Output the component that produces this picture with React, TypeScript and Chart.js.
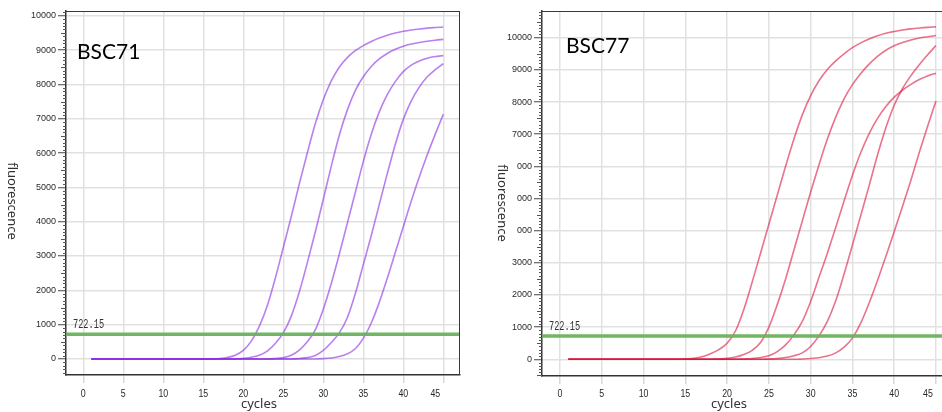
import React, { useEffect, useRef } from "react";
import { Chart, registerables } from "chart.js";

Chart.register(...registerables);

// ---------------- data ----------------
const cycles = [1, 2, 3, 4, 5, 6, 7, 8, 9, 10, 11, 12, 13, 14, 15, 16, 17, 18, 19, 20, 21, 22, 23, 24, 25, 26, 27, 28, 29, 30, 31, 32, 33, 34, 35, 36, 37, 38, 39, 40, 41, 42, 43, 44, 45];

const xTickValues = [0, 5, 10, 15, 20, 25, 30, 35, 40, 45];
const xTickLabels = ["0", "5", "10", "15", "20", "25", "30", "35", "40", "45"];
const yTickValues = [0, 1000, 2000, 3000, 4000, 5000, 6000, 7000, 8000, 9000, 10000];
const yTickLabels = ["0", "1000", "2000", "3000", "4000", "5000", "6000", "7000", "8000", "9000", "10000"];

const threshold = 722.15;
const thresholdLabel = "722.15";

// BSC71 (left panel, purple)
const bsc71A = [0, 0, 0, 0, 0, 0, 0, 0, 0, 0, 0, 0, 0, 0, 0, 0, 15, 45, 110, 250, 520, 950, 1550, 2350, 3250, 4150, 5100, 6000, 6850, 7550, 8100, 8500, 8780, 8980, 9130, 9250, 9350, 9430, 9495, 9545, 9585, 9615, 9638, 9655, 9670];
const bsc71B = [0, 0, 0, 0, 0, 0, 0, 0, 0, 0, 0, 0, 0, 0, 0, 0, 0, 0, 0, 20, 50, 110, 230, 450, 760, 1250, 1950, 2800, 3700, 4650, 5620, 6520, 7250, 7820, 8220, 8520, 8740, 8900, 9020, 9110, 9175, 9220, 9258, 9287, 9310];
const bsc71C = [0, 0, 0, 0, 0, 0, 0, 0, 0, 0, 0, 0, 0, 0, 0, 0, 0, 0, 0, 0, 0, 0, 0, 15, 40, 110, 260, 500, 850, 1450, 2200, 3050, 3950, 4850, 5750, 6550, 7200, 7700, 8080, 8370, 8560, 8680, 8760, 8810, 8840];
const bsc71D = [0, 0, 0, 0, 0, 0, 0, 0, 0, 0, 0, 0, 0, 0, 0, 0, 0, 0, 0, 0, 0, 0, 0, 0, 0, 0, 15, 40, 100, 250, 480, 760, 1200, 1900, 2750, 3600, 4500, 5400, 6250, 6980, 7520, 7920, 8220, 8430, 8600];
const bsc71E = [0, 0, 0, 0, 0, 0, 0, 0, 0, 0, 0, 0, 0, 0, 0, 0, 0, 0, 0, 0, 0, 0, 0, 0, 0, 0, 0, 0, 0, 10, 30, 70, 150, 300, 600, 1050, 1650, 2350, 3100, 3850, 4600, 5300, 5950, 6550, 7130];

// BSC77 (right panel, red)
const bsc77A = [0, 0, 0, 0, 0, 0, 0, 0, 0, 0, 0, 0, 0, 0, 15, 35, 80, 170, 300, 500, 880, 1550, 2400, 3300, 4200, 5100, 6000, 6850, 7600, 8200, 8660, 9010, 9280, 9500, 9690, 9840, 9960, 10060, 10140, 10195, 10240, 10275, 10300, 10320, 10336];
const bsc77B = [0, 0, 0, 0, 0, 0, 0, 0, 0, 0, 0, 0, 0, 0, 0, 0, 0, 0, 15, 30, 70, 150, 280, 520, 1000, 1700, 2500, 3400, 4300, 5200, 6050, 6850, 7530, 8100, 8540, 8890, 9180, 9420, 9610, 9750, 9850, 9930, 9990, 10030, 10066];
const bsc77C = [0, 0, 0, 0, 0, 0, 0, 0, 0, 0, 0, 0, 0, 0, 0, 0, 0, 0, 0, 0, 0, 10, 25, 55, 110, 240, 450, 760, 1180, 1800, 2550, 3300, 4100, 4920, 5720, 6430, 7020, 7490, 7860, 8150, 8370, 8550, 8700, 8810, 8896];
const bsc77D = [0, 0, 0, 0, 0, 0, 0, 0, 0, 0, 0, 0, 0, 0, 0, 0, 0, 0, 0, 0, 0, 0, 0, 0, 10, 25, 55, 110, 200, 400, 730, 1180, 1820, 2650, 3550, 4480, 5400, 6350, 7200, 7900, 8420, 8820, 9160, 9470, 9755];
const bsc77E = [0, 0, 0, 0, 0, 0, 0, 0, 0, 0, 0, 0, 0, 0, 0, 0, 0, 0, 0, 0, 0, 0, 0, 0, 0, 0, 0, 0, 10, 25, 50, 100, 200, 380, 660, 1130, 1750, 2450, 3200, 3970, 4760, 5570, 6430, 7250, 8034];

// ---------------- styling ----------------
const H = 412;
const GRID = "#e1e1e1";
const GREEN = "rgba(104,178,92,0.95)";

type Panel = {
  name: string;
  series: number[][];
  color: string;
  width: number;
  left: number;
  xMin: number;
  xMax: number;
  yMin: number;
  yMax: number;
  yWidth: number;
  xHeight: number;
  padRight: number;
  rightBorder: boolean;
  nameX: number;
  nameY: number;
  yTitleX: number;
  yTitleY: number;
  xTitleX: number;
  mask: null | { x: number; y: number; w: number; h: number };
};

const panels: Panel[] = [
  {
    name: "BSC71",
    series: [bsc71A, bsc71B, bsc71C, bsc71D, bsc71E],
    color: "rgba(138,43,226,0.6)",
    width: 470,
    left: 0,
    xMin: -2.16,
    xMax: 47.09,
    yMin: -466,
    yMax: 10137,
    yWidth: 66,
    xHeight: 37,
    padRight: 10,
    rightBorder: true,
    nameX: 77,
    nameY: 59,
    yTitleX: 12,
    yTitleY: 201,
    xTitleX: 259,
    mask: null,
  },
  {
    name: "BSC77",
    series: [bsc77A, bsc77B, bsc77C, bsc77D, bsc77E],
    color: "rgba(220,20,60,0.6)",
    width: 472,
    left: 470,
    xMin: -2.154,
    xMax: 45.72,
    yMin: -519,
    yMax: 10830,
    yWidth: 72,
    xHeight: 36,
    padRight: 0,
    rightBorder: false,
    nameX: 96,
    nameY: 53,
    yTitleX: 32,
    yTitleY: 203,
    xTitleX: 259,
    mask: { x: 20, y: 156, w: 27, h: 90 },
  },
];

function overlay(p: Panel) {
  return {
    id: "overlay-" + p.name,
    afterDraw(chart: any) {
      const ctx: CanvasRenderingContext2D = chart.ctx;
      const a = chart.chartArea;
      const xs = chart.scales.x;
      const ys = chart.scales.y;
      ctx.save();

      // top / right frame
      ctx.strokeStyle = "#3a3a3a";
      ctx.lineWidth = 1;
      ctx.beginPath();
      ctx.moveTo(a.left, a.top + 0.5);
      ctx.lineTo(a.right, a.top + 0.5);
      if (p.rightBorder) {
        ctx.moveTo(a.right - 0.5, a.top);
        ctx.lineTo(a.right - 0.5, a.bottom);
      }
      ctx.stroke();

      // minor ticks on y axis
      ctx.strokeStyle = "#555";
      ctx.lineWidth = 1;
      ctx.beginPath();
      for (let v = Math.ceil(ys.min / 100) * 100; v <= ys.max; v += 100) {
        if (v % 1000 === 0) continue;
        const y = Math.round(ys.getPixelForValue(v)) + 0.5;
        const len = v % 500 === 0 ? 5 : 3;
        ctx.moveTo(a.left - len, y);
        ctx.lineTo(a.left, y);
      }
      ctx.stroke();

      // x tick labels (condensed)
      ctx.fillStyle = "#2a2a2a";
      ctx.font = "11px 'Liberation Sans', Arial, sans-serif";
      ctx.textAlign = "center";
      ctx.textBaseline = "alphabetic";
      xTickValues.forEach((v, i) => {
        const off = i === xTickValues.length - 1 ? -8 : 0;
        const px = xs.getPixelForValue(v) + off;
        ctx.save();
        ctx.translate(px, 397);
        ctx.scale(0.8, 1);
        ctx.fillText(xTickLabels[i], 0, 0);
        ctx.restore();
      });

      // threshold label
      const ty = ys.getPixelForValue(threshold);
      ctx.save();
      ctx.fillStyle = "#333";
      ctx.font = "12px 'Liberation Mono', 'DejaVu Sans Mono', monospace";
      ctx.textAlign = "left";
      ctx.textBaseline = "middle";
      ctx.translate(a.left + 7, ty - 9.5);
      ctx.scale(0.72, 1);
      ctx.fillText(thresholdLabel, 0, 0);
      ctx.restore();

      // x title
      ctx.fillStyle = "#333";
      ctx.font = "13px 'Noto Sans', sans-serif";
      ctx.textAlign = "center";
      ctx.textBaseline = "alphabetic";
      ctx.fillText("cycles", p.xTitleX, 408);

      // y title (reads top to bottom) with white backing
      if (p.mask) {
        ctx.fillStyle = "#fff";
        ctx.fillRect(p.mask.x, p.mask.y, p.mask.w, p.mask.h);
      }
      ctx.save();
      ctx.translate(p.yTitleX, p.yTitleY);
      ctx.rotate(Math.PI / 2);
      ctx.fillStyle = "#333";
      ctx.font = "13px 'Noto Sans', sans-serif";
      ctx.textAlign = "center";
      ctx.textBaseline = "middle";
      ctx.fillText("fluorescence", 0, 0);
      ctx.restore();

      // panel name
      ctx.fillStyle = "#000";
      ctx.font = "21px Lato, 'Open Sans', sans-serif";
      ctx.textAlign = "left";
      ctx.textBaseline = "alphabetic";
      ctx.fillText(p.name, p.nameX, p.nameY);

      ctx.restore();
    },
  };
}

function buildConfig(p: Panel): any {
  const curves = p.series.map((s, i) => ({
    label: p.name + " " + (i + 1),
    data: cycles.map((c, k) => ({ x: c, y: s[k] })),
    borderColor: p.color,
    borderWidth: 1.6,
    pointRadius: 0,
    fill: false,
    cubicInterpolationMode: "monotone",
    order: 2,
  }));
  const thr = {
    label: "threshold",
    data: [
      { x: p.xMin, y: threshold },
      { x: p.xMax, y: threshold },
    ],
    borderColor: GREEN,
    borderWidth: 3.5,
    pointRadius: 0,
    fill: false,
    order: 1,
  };
  return {
    type: "line",
    data: { datasets: [...curves, thr] },
    options: {
      animation: false,
      responsive: false,
      devicePixelRatio: 1,
      events: [],
      layout: { padding: { top: 11, right: p.padRight, bottom: 0, left: 0 } },
      plugins: { legend: { display: false }, tooltip: { enabled: false }, title: { display: false } },
      scales: {
        x: {
          type: "linear",
          min: p.xMin,
          max: p.xMax,
          afterBuildTicks: (s: any) => {
            s.ticks = xTickValues.map((v) => ({ value: v }));
          },
          afterFit: (s: any) => {
            s.height = p.xHeight;
          },
          ticks: { display: false, autoSkip: false },
          grid: { color: GRID, lineWidth: 1.5, tickLength: 8, tickColor: "#d8d8d8", tickWidth: 1.5 },
          border: { color: "#333", width: 1.5 },
        },
        y: {
          type: "linear",
          min: p.yMin,
          max: p.yMax,
          afterBuildTicks: (s: any) => {
            s.ticks = yTickValues.map((v) => ({ value: v }));
          },
          afterFit: (s: any) => {
            s.width = p.yWidth;
          },
          ticks: {
            autoSkip: false,
            padding: 2,
            color: "#2a2a2a",
            font: { family: "'Liberation Sans', Arial, sans-serif", size: 9 },
            callback: (v: any) => {
              const i = yTickValues.indexOf(Number(v));
              return i >= 0 ? yTickLabels[i] : "";
            },
          },
          grid: { color: GRID, lineWidth: 1.5, tickLength: 8, tickColor: "#444", tickWidth: 1 },
          border: { color: "#333", width: 1.5 },
        },
      },
    },
    plugins: [overlay(p)],
  };
}

function PanelChart({ p }: { p: Panel }) {
  const ref = useRef<HTMLCanvasElement>(null);
  useEffect(() => {
    const chart = new Chart(ref.current as HTMLCanvasElement, buildConfig(p));
    return () => chart.destroy();
  }, [p]);
  return (
    <canvas
      ref={ref}
      width={p.width}
      height={H}
      style={{ position: "absolute", left: p.left, top: 0, width: p.width, height: H }}
    />
  );
}

export default function App() {
  return (
    <div
      style={{
        position: "absolute",
        left: 0,
        top: 0,
        width: 942,
        height: H,
        overflow: "hidden",
        background: "#fff",
      }}
    >
      {panels.map((p) => (
        <PanelChart key={p.name} p={p} />
      ))}
    </div>
  );
}
